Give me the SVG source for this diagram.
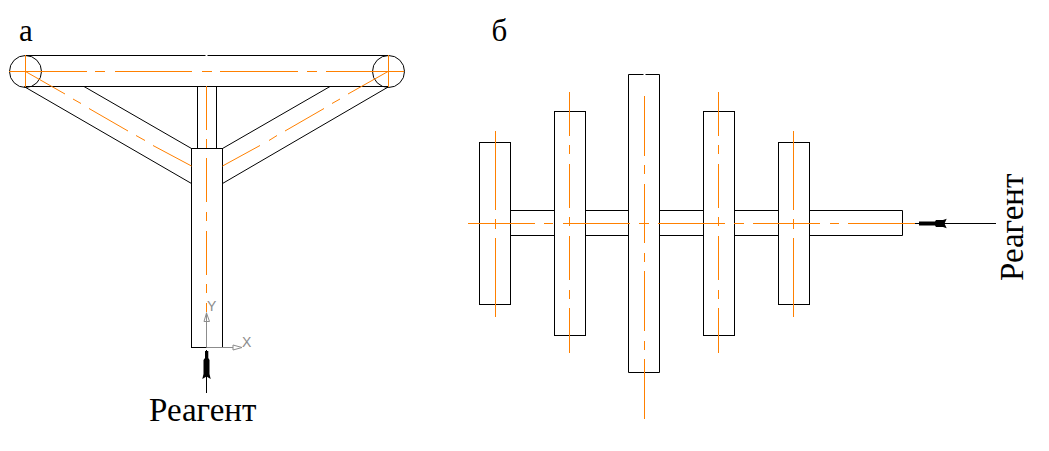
<svg xmlns="http://www.w3.org/2000/svg" width="1049" height="451" viewBox="0 0 1049 451">
<style>
.s{fill:none;stroke:#000;stroke-width:1}
.t{fill:#fff;stroke:#000;stroke-width:1}
.c{fill:none;stroke:#ff8000;stroke-width:1}
.g{fill:none;stroke:#8c8c8c;stroke-width:1}
.a{fill:#8c8c8c;font-family:"Liberation Sans",sans-serif;font-size:14px}
.l{font-family:"Liberation Serif",serif;fill:#000}
</style>
<rect width="1049" height="451" fill="#fff"/>
<g id="panel-a">
<g id="manifold-top"><path class="s" d="M25 55.5H205.500M207.500 55.5H388M25 86.5H388"/><circle class="s" cx="25.5" cy="71.5" r="16"/><circle class="s" cx="388.5" cy="71.5" r="16"/></g>
<g id="branch-left"><path class="s" d="M24 86.5L191.5 183.5M84 86.5L191.5 148.5"/></g>
<g id="branch-right"><path class="s" d="M389 86.5L222.5 183.5M330 86.5L222.5 148.5"/></g>
<g id="stem"><path class="s" d="M197.5 86.5V148.5M216.5 86.5V148.5"/></g>
<g id="inlet"><rect class="s" x="191.5" y="148.5" width="31" height="199"/></g>
</g>
<g id="panel-b">
<g id="tube"><path class="s" d="M510.5 210.5H902.5V235.5H510.5"/></g>
<g id="disc-1"><rect class="t" x="479.5" y="142.5" width="31" height="162"/></g>
<g id="disc-2"><rect class="t" x="554.5" y="111.5" width="31" height="224"/></g>
<g id="disc-3"><path class="t" d="M643.500 74.500H628.500V372.500H659.500V74.500H645.500"/></g>
<g id="disc-4"><rect class="t" x="703.5" y="111.5" width="31" height="224"/></g>
<g id="disc-5"><rect class="t" x="778.5" y="142.5" width="31" height="162"/></g>
</g>
<g id="connectors">
<path class="c" d="M9 71.5H87M95 71.5H105M115 71.5H192M202 71.5H212M220 71.5H298M307 71.5H317M326 71.5H404"/>
<path class="c" d="M25.5 55V87M388.5 55V87"/>
<path class="c" d="M25.5 71.5L65 94M73 99L81 103.500M89 108.500L128 131M136 135.500L145 140.500M153 145.500L191.500 166"/>
<path class="c" d="M388 71.5L348 94M340 99L332 103.500M324 108.500L285 131M277 135.500L269 140.500M260 145.500L222.500 166"/>
<path class="c" d="M206.500 86V130M206.500 139V148M206.500 158V202M206.500 212V221M206.500 231V275M206.500 284V293M206.500 303V312"/>
<path class="c" d="M468 223.500H535M544 223.500H553M563 223.500H630M639 223.500H649M658 223.500H725M734 223.500H744M753 223.500H820M830 223.500H839M848 223.500H915"/>
<path class="c" d="M495.500 131V210M495.500 219V229M495.500 238V317"/>
<path class="c" d="M569.500 92V136M569.500 145V154M569.500 164V208M569.500 217V226M569.500 236V280M569.500 290V299M569.500 308V353"/>
<path class="c" d="M644.500 96V156M644.500 165V174M644.500 184V243M644.500 253V262M644.500 271V331M644.500 341V350M644.500 359V419"/>
<path class="c" d="M718.500 92V136M718.500 145V154M718.500 164V208M718.500 217V226M718.500 236V280M718.500 290V299M718.500 308V353"/>
<path class="c" d="M793.500 131V210M793.500 219V229M793.500 238V317"/>
<path class="g" d="M206.500 347.500V312.500M204 321.500L206.500 313L209.500 321.500ZM206.500 347.500H233M233 345V350L242 347.500Z"/>
<path class="s" d="M206.500 350V393"/>
<path d="M205 351H208.300V358L209.500 360V374L210.700 379L206.500 376.500L202.300 379L203.500 374V360L205 358Z" fill="#000"/>
<path class="s" d="M915 223.500H996"/>
<path d="M919 221.500H935L936 220H943L946.700 218.700L944.500 223.500L946.700 228.300L943 227H936L935 225.500H919Z" fill="#000"/>
</g>
<g id="labels">
<text class="a" x="207" y="311">Y</text>
<text class="a" x="242" y="347">X</text>
<text class="l" font-size="31" x="19" y="41">а</text>
<text class="l" font-size="31" x="491.500" y="41">б</text>
<text class="l" font-size="33" x="149" y="421">Реагент</text>
<text class="l" font-size="33" transform="translate(1023 281) rotate(-90)">Реагент</text>
</g>
</svg>
